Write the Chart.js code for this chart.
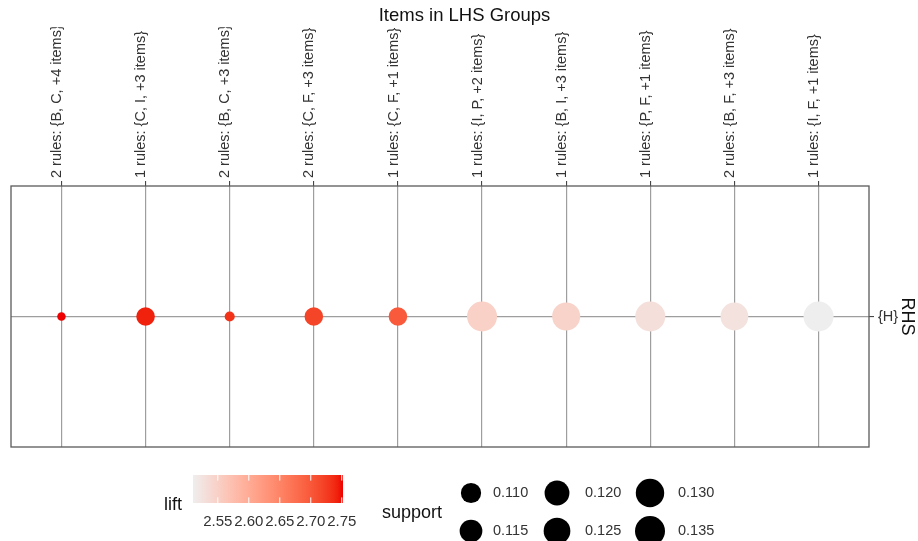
<!DOCTYPE html>
<html>
<head>
<meta charset="utf-8">
<script src="https://cdn.jsdelivr.net/npm/chart.js@4/dist/chart.umd.min.js"></script>
<style>
  html, body { margin: 0; padding: 0; background: #fff; }
  canvas { display: block; }
</style>
</head>
<body>
<canvas id="c" width="918" height="541"></canvas>
<script>
// Grouped association rules: one column per LHS group, one row per RHS item
const lhsGroups = [
  "2 rules: {B, C, +4 items}",
  "1 rules: {C, I, +3 items}",
  "2 rules: {B, C, +3 items}",
  "2 rules: {C, F, +3 items}",
  "1 rules: {C, F, +1 items}",
  "1 rules: {I, P, +2 items}",
  "1 rules: {B, I, +3 items}",
  "1 rules: {P, F, +1 items}",
  "2 rules: {B, F, +3 items}",
  "1 rules: {I, F, +1 items}"
];
const rhsItems = ["{H}"];
const support = [0.0994, 0.1072, 0.0996, 0.1072, 0.1072, 0.135, 0.1288, 0.135, 0.128, 0.135];
const lift = [2.752, 2.742, 2.732, 2.718, 2.698, 2.549, 2.546, 2.530, 2.526, 2.51];
const liftBreaks = [2.55, 2.60, 2.65, 2.70, 2.75];
const supportBreaks = [0.110, 0.115, 0.120, 0.125, 0.130, 0.135];

const FONT = "'Liberation Sans', Arial, sans-serif";
const LOW = '#EEEEEE', HIGH = '#EE0000';

// --- colour gradient interpolated in CIE Lab ---
function hexToRgb(h) { const n = parseInt(h.slice(1), 16); return [(n >> 16) & 255, (n >> 8) & 255, n & 255]; }
const lin = c => { c /= 255; return c <= 0.04045 ? c / 12.92 : Math.pow((c + 0.055) / 1.055, 2.4); };
const gam = c => { const v = c <= 0.0031308 ? 12.92 * c : 1.055 * Math.pow(c, 1 / 2.4) - 0.055; return Math.round(Math.min(1, Math.max(0, v)) * 255); };
const WX = 0.95047, WY = 1, WZ = 1.08883;
const fl = t => t > 0.008856 ? Math.cbrt(t) : 7.787 * t + 16 / 116;
const finv = t => { const t3 = t * t * t; return t3 > 0.008856 ? t3 : (t - 16 / 116) / 7.787; };
function toLab(rgb) {
  const [r, g, b] = rgb.map(lin);
  const X = (0.4124 * r + 0.3576 * g + 0.1805 * b) / WX;
  const Y = (0.2126 * r + 0.7152 * g + 0.0722 * b) / WY;
  const Z = (0.0193 * r + 0.1192 * g + 0.9505 * b) / WZ;
  const fx = fl(X), fy = fl(Y), fz = fl(Z);
  return [116 * fy - 16, 500 * (fx - fy), 200 * (fy - fz)];
}
function fromLab([L, a, bb]) {
  const fy = (L + 16) / 116, fx = fy + a / 500, fz = fy - bb / 200;
  const X = finv(fx) * WX, Y = finv(fy) * WY, Z = finv(fz) * WZ;
  const r = 3.2406 * X - 1.5372 * Y - 0.4986 * Z;
  const g = -0.9689 * X + 1.8758 * Y + 0.0415 * Z;
  const b = 0.0557 * X - 0.2040 * Y + 1.0570 * Z;
  return [gam(r), gam(g), gam(b)];
}
const labLow = toLab(hexToRgb(LOW)), labHigh = toLab(hexToRgb(HIGH));
const liftMin = Math.min(...lift), liftMax = Math.max(...lift);
function liftColor(v) {
  const t = Math.min(1, Math.max(0, (v - liftMin) / (liftMax - liftMin)));
  const [r, g, b] = fromLab(labLow.map((c, i) => c + (labHigh[i] - c) * t));
  return `rgb(${r},${g},${b})`;
}

// --- point size: area grows with support ---
const supMin = Math.min(...support), supMax = Math.max(...support);
const D_MIN = 8.5, D_MAX = 30;
function supportRadius(v) {
  const t = Math.max(0, (v - supMin) / (supMax - supMin));
  return (D_MIN + (D_MAX - D_MIN) * Math.sqrt(t)) / 2;
}

const background = {
  id: 'background',
  beforeDraw(chart) {
    const ctx = chart.ctx;
    ctx.save();
    ctx.fillStyle = '#fff';
    ctx.fillRect(0, 0, chart.width, chart.height);
    ctx.restore();
  }
};

const panelFrame = {
  id: 'panelFrame',
  afterDraw(chart) {
    const { left, top, right, bottom } = chart.chartArea;
    const ctx = chart.ctx;
    ctx.save();
    ctx.strokeStyle = '#5a5a5a';
    ctx.lineWidth = 1.3;
    ctx.strokeRect(left, top, right - left, bottom - top);
    ctx.restore();
  }
};

const scaleLegends = {
  id: 'scaleLegends',
  afterDraw(chart) {
    const ctx = chart.ctx;
    ctx.save();

    // lift colour bar
    const bx = 193, by = 475, bw = 150, bh = 28;
    const grad = ctx.createLinearGradient(bx, 0, bx + bw, 0);
    for (let i = 0; i <= 30; i++) {
      const t = i / 30;
      grad.addColorStop(t, liftColor(liftMin + t * (liftMax - liftMin)));
    }
    ctx.fillStyle = grad;
    ctx.fillRect(bx, by, bw, bh);

    ctx.fillStyle = '#111';
    ctx.font = `18px ${FONT}`;
    ctx.textAlign = 'left';
    ctx.textBaseline = 'alphabetic';
    ctx.fillText('lift', 164, 510);

    ctx.strokeStyle = '#fff';
    ctx.lineWidth = 1;
    ctx.font = `15px ${FONT}`;
    ctx.fillStyle = '#333';
    ctx.textAlign = 'center';
    liftBreaks.forEach(v => {
      const x = bx + (v - liftMin) / (liftMax - liftMin) * bw;
      ctx.beginPath();
      ctx.moveTo(x, by); ctx.lineTo(x, by + bh / 5);
      ctx.moveTo(x, by + bh); ctx.lineTo(x, by + bh * 4 / 5);
      ctx.stroke();
      ctx.fillText(v.toFixed(2), x, 526);
    });

    // support size keys
    ctx.fillStyle = '#111';
    ctx.font = `18px ${FONT}`;
    ctx.textAlign = 'left';
    ctx.fillText('support', 382, 518);

    const colX = [471, 557, 650];
    const labelX = [493, 585, 678];
    const rowY = [493, 531];
    supportBreaks.forEach((v, i) => {
      const col = Math.floor(i / 2), row = i % 2;
      ctx.fillStyle = '#000';
      ctx.beginPath();
      ctx.arc(colX[col], rowY[row], supportRadius(v), 0, Math.PI * 2);
      ctx.fill();
      ctx.fillStyle = '#333';
      ctx.font = `14.5px ${FONT}`;
      ctx.textBaseline = 'middle';
      ctx.fillText(v.toFixed(3), labelX[col], rowY[row]);
    });
    ctx.restore();
  }
};

const gridStyle = { color: '#9e9e9e', lineWidth: 1.2, tickColor: '#333', tickLength: 5, tickWidth: 1 };

new Chart(document.getElementById('c'), {
  type: 'scatter',
  data: {
    datasets: [{
      data: lhsGroups.map((g, i) => ({ x: i + 1, y: 1 })),
      pointRadius: ctx => supportRadius(support[ctx.dataIndex]),
      pointHoverRadius: ctx => supportRadius(support[ctx.dataIndex]),
      pointBackgroundColor: ctx => liftColor(lift[ctx.dataIndex]),
      pointBorderWidth: 0,
      borderWidth: 0
    }]
  },
  options: {
    responsive: false,
    animation: false,
    devicePixelRatio: 1,
    layout: { autoPadding: false, padding: { left: 11, right: 0, top: 0, bottom: 94 } },
    plugins: {
      legend: { display: false },
      tooltip: { enabled: false },
      title: {
        display: true,
        text: 'Items in LHS Groups',
        color: '#111',
        font: { family: FONT, size: 18.5, weight: 'normal' },
        padding: { top: 5, bottom: 0 }
      }
    },
    scales: {
      x: {
        type: 'linear',
        position: 'top',
        min: 0.4,
        max: 10.6,
        afterBuildTicks: s => { s.ticks = lhsGroups.map((_, i) => ({ value: i + 1 })); },
        afterFit: s => { s.height = 158.8; },
        grid: gridStyle,
        border: { display: false },
        ticks: {
          autoSkip: false,
          minRotation: 90,
          maxRotation: 90,
          padding: 3,
          labelOffset: 13,
          color: '#333',
          font: { family: FONT, size: 14.5 },
          callback: v => lhsGroups[Math.round(v) - 1]
        }
      },
      y: {
        type: 'linear',
        position: 'right',
        min: 0.4,
        max: 1.6,
        afterBuildTicks: s => { s.ticks = rhsItems.map((_, i) => ({ value: i + 1 })); },
        afterFit: s => { s.width = 49; },
        grid: gridStyle,
        border: { display: false },
        ticks: {
          padding: 4,
          color: '#333',
          font: { family: FONT, size: 14.5 },
          callback: v => rhsItems[Math.round(v) - 1]
        },
        title: {
          display: true,
          text: 'RHS',
          color: '#111',
          font: { family: FONT, size: 18 },
          padding: { top: 0, bottom: 0 }
        }
      }
    }
  },
  plugins: [background, panelFrame, scaleLegends]
});
</script>
</body>
</html>
